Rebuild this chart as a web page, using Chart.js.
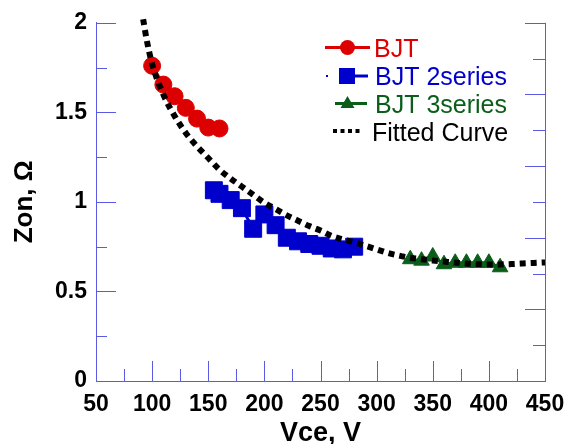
<!DOCTYPE html>
<html>
<head>
<meta charset="utf-8">
<script src="https://cdn.jsdelivr.net/npm/chart.js@4.4.0/dist/chart.umd.min.js"></script>
<style>
  html, body { margin: 0; padding: 0; background: #fff; }
  #wrap { width: 575px; height: 444px; }
</style>
</head>
<body>
<div id="wrap"><canvas id="zon"></canvas></div>
<script>
const bjtVce = [100, 110, 120, 130, 140, 150, 160];
const bjtZon = [1.76, 1.655, 1.59, 1.525, 1.465, 1.415, 1.41];

const bjt2Vce = [155, 160, 170, 180, 190, 200, 210, 220, 230, 240, 250, 260, 270, 280];
const bjt2Zon = [1.065, 1.045, 1.01, 0.965, 0.85, 0.93, 0.87, 0.80, 0.78, 0.765, 0.755, 0.74, 0.735, 0.75];

const bjt3Vce = [330, 340, 350, 360, 370, 380, 390, 400, 410];
const bjt3Zon = [0.68, 0.672, 0.695, 0.652, 0.66, 0.66, 0.66, 0.66, 0.635];

const fitVce = [92, 95, 100, 110, 120, 130, 140, 150, 160, 170, 180, 190, 200, 210, 220, 230, 240, 250,
                260, 270, 280, 290, 300, 310, 320, 330, 340, 350, 360, 370, 380, 390, 400, 410, 420, 430, 440, 450];
const fitZon = [2.02, 1.91, 1.77, 1.60, 1.48, 1.385, 1.31, 1.245, 1.18, 1.13, 1.085, 1.04, 0.995, 0.96,
                0.925, 0.895, 0.865, 0.84, 0.81, 0.79, 0.775, 0.755, 0.735, 0.715, 0.70, 0.688, 0.68, 0.673,
                0.667, 0.661, 0.656, 0.652, 0.651, 0.651, 0.653, 0.656, 0.659, 0.662];

const xTicks = [50, 100, 150, 200, 250, 300, 350, 400, 450];
const yTicks = [0, 0.5, 1, 1.5, 2];

const RED = '#dd0000';
const BLUE = '#0000cc';
const GREEN = '#0b5e1a';
const AXIS = '#5a5ae6';
const FONT = '"Liberation Sans", Arial, sans-serif';

function pts(xs, ys) {
  return xs.map((x, i) => ({x: x, y: ys[i]}));
}

// inward tick marks on all four sides (left/bottom major+minor, right 10 steps)
const frameTicks = {
  id: 'frameTicks',
  beforeDatasetsDraw(chart) {
    const {ctx, chartArea: a, scales: {x, y}} = chart;
    ctx.save();
    ctx.strokeStyle = AXIS;
    ctx.lineWidth = 1;
    ctx.beginPath();
    for (let v = 50; v <= 450; v += 25) {
      const px = Math.round(x.getPixelForValue(v)) + 0.5;
      const len = (v % 50 === 0) ? 20 : 12;
      ctx.moveTo(px, a.bottom);
      ctx.lineTo(px, a.bottom - len);
    }
    for (let v = 0; v <= 2.0001; v += 0.25) {
      const py = Math.round(y.getPixelForValue(v)) + 0.5;
      const len = (Math.round(v * 4) % 2 === 0) ? 20 : 11;
      ctx.moveTo(a.left, py);
      ctx.lineTo(a.left + len, py);
    }
    for (let i = 0; i <= 10; i++) {
      const py = Math.round(a.top + i * (a.bottom - a.top) / 10) + 0.5;
      const len = (i % 2 === 0) ? 20 : 12;
      ctx.moveTo(a.right, py);
      ctx.lineTo(a.right - len, py);
    }
    ctx.moveTo(Math.round(a.right) + 0.5, a.top);
    ctx.lineTo(Math.round(a.right) + 0.5, a.bottom);
    ctx.stroke();
    ctx.restore();
  }
};

// legend inside the plot, line + marker + coloured text
const seriesLegend = {
  id: 'seriesLegend',
  afterDraw(chart) {
    const ctx = chart.ctx;
    ctx.save();
    ctx.font = '25px ' + FONT;
    ctx.textBaseline = 'alphabetic';

    // BJT
    ctx.strokeStyle = RED; ctx.lineWidth = 3;
    ctx.beginPath(); ctx.moveTo(325, 47.5); ctx.lineTo(370, 47.5); ctx.stroke();
    ctx.fillStyle = RED;
    ctx.beginPath(); ctx.arc(347.5, 47.5, 7.5, 0, Math.PI * 2); ctx.fill();
    ctx.fillText('BJT', 374, 56.5);

    // BJT 2series
    ctx.strokeStyle = BLUE; ctx.fillStyle = BLUE;
    ctx.fillRect(326, 75, 2, 2);
    ctx.beginPath(); ctx.moveTo(339, 76); ctx.lineTo(368, 76); ctx.stroke();
    ctx.fillRect(339, 68, 16, 16);
    ctx.fillText('BJT 2series', 375, 85);

    // BJT 3series
    ctx.strokeStyle = GREEN; ctx.fillStyle = GREEN;
    ctx.beginPath(); ctx.moveTo(335, 103.5); ctx.lineTo(367, 103.5); ctx.stroke();
    ctx.beginPath();
    ctx.moveTo(347.5, 96); ctx.lineTo(354.5, 108); ctx.lineTo(340.5, 108); ctx.closePath(); ctx.fill();
    ctx.fillText('BJT 3series', 375, 113);

    // Fitted Curve
    ctx.fillStyle = '#000';
    for (let i = 0; i < 4; i++) ctx.fillRect(333 + i * 7.5, 129, 4, 4);
    ctx.fillText('Fitted Curve', 372, 140.5);
    ctx.restore();
  }
};

const ctx = document.getElementById('zon').getContext('2d');
const zonChart = new Chart(ctx, {
  type: 'scatter',
  data: {
    datasets: [
      {
        label: 'Fitted Curve',
        data: pts(fitVce, fitZon),
        showLine: true,
        borderColor: '#000',
        borderWidth: 6,
        borderDash: [6, 5],
        borderCapStyle: 'butt',
        cubicInterpolationMode: 'monotone',
        pointRadius: 0,
        clip: false,
        order: 0
      },
      {
        label: 'BJT',
        data: pts(bjtVce, bjtZon),
        showLine: true,
        borderColor: RED,
        borderWidth: 3,
        backgroundColor: RED,
        pointStyle: 'circle',
        pointRadius: 8.5,
        pointBorderWidth: 1,
        pointBorderColor: RED,
        order: 1
      },
      {
        label: 'BJT 2series',
        data: pts(bjt2Vce, bjt2Zon),
        showLine: true,
        borderColor: BLUE,
        borderWidth: 3,
        backgroundColor: BLUE,
        pointStyle: 'rect',
        pointRadius: 12,
        pointBorderWidth: 1,
        pointBorderColor: BLUE,
        order: 2
      },
      {
        label: 'BJT 3series',
        data: pts(bjt3Vce, bjt3Zon),
        showLine: true,
        borderColor: GREEN,
        borderWidth: 3,
        backgroundColor: GREEN,
        pointStyle: 'triangle',
        pointRadius: 9,
        pointBorderWidth: 1,
        pointBorderColor: GREEN,
        order: 3
      }
    ]
  },
  options: {
    responsive: true,
    maintainAspectRatio: false,
    animation: false,
    layout: { padding: { left: 9, top: 19.5, right: 30, bottom: 0 } },
    plugins: {
      legend: { display: false },
      tooltip: { enabled: false }
    },
    scales: {
      x: {
        type: 'linear',
        position: 'bottom',
        min: 50,
        max: 450,
        afterBuildTicks: s => { s.ticks = xTicks.map(v => ({value: v})); },
        afterFit: s => { s.height = 63; },
        grid: { display: true, drawOnChartArea: false, drawTicks: false },
        border: { display: true, color: AXIS, width: 1 },
        ticks: { color: '#000', padding: 10, maxRotation: 0, autoSkip: false,
                 font: { family: FONT, size: 23, weight: 'bold' } },
        title: { display: true, text: 'Vce, V', color: '#000', padding: 0,
                 font: { family: FONT, size: 27, weight: 'bold', lineHeight: 0.8 } }
      },
      y: {
        type: 'linear',
        min: 0,
        max: 2,
        afterBuildTicks: s => { s.ticks = yTicks.map(v => ({value: v})); },
        afterFit: s => { s.width = 87; },
        grid: { display: true, drawOnChartArea: false, drawTicks: false },
        border: { display: true, color: AXIS, width: 1 },
        ticks: { color: '#000', padding: 9, callback: v => String(v),
                 font: { family: FONT, size: 23, weight: 'bold' } },
        title: { display: true, text: 'Zon, Ω', color: '#000', padding: 0,
                 font: { family: FONT, size: 26, weight: 'bold' } }
      }
    }
  },
  plugins: [frameTicks, seriesLegend]
});
</script>
</body>
</html>
